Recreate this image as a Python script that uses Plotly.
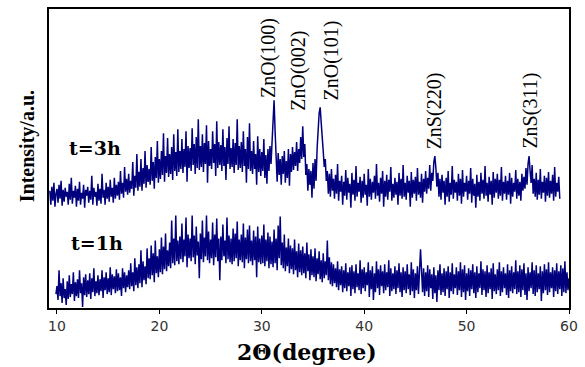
import numpy as np
import plotly.graph_objects as go

# 2-theta scan grid (degrees): start and step of each scan
start_3h, start_1h, step = 9.3, 9.9, 0.1

# t=3h intensities (a.u., offset as plotted), one value per 0.1 deg from 9.3 deg
int_3h = [
    118, 104, 122, 108, 126, 102, 115,
    120, 106, 124, 110, 128, 103, 119, 107, 121, 112,
    117, 104, 125, 109, 131, 105, 118, 111, 123, 102,
    120, 108, 127, 104, 116, 110, 124, 101, 119, 113,
    122, 106, 118, 109, 133, 104, 121, 112, 117, 103,
    125, 108, 120, 105, 135, 111, 119, 104, 126, 110,
    122, 107, 129, 112, 121, 106, 131, 110, 124, 113,
    127, 109, 138, 115, 126, 111, 142, 117, 130, 114,
    135, 116, 128, 120, 147, 113, 133, 121, 155, 118,
    137, 122, 150, 118, 141, 125, 158, 121, 144, 127,
    140, 124, 162, 128, 147, 120, 152, 131, 168, 126,
    150, 130, 158, 134, 176, 127, 153, 136, 171, 132,
    155, 135, 162, 129, 175, 138, 157, 133, 180, 137,
    158, 140, 170, 136, 160, 142, 178, 127, 163, 141,
    161, 138, 181, 144, 165, 135, 172, 141, 190, 139,
    163, 142, 175, 137, 166, 145, 184, 126, 168, 143,
    160, 140, 178, 146, 165, 133, 188, 141, 167, 144,
    164, 138, 180, 143, 162, 129, 171, 145, 183, 140,
    161, 142, 170, 136, 166, 144, 190, 139, 163, 141,
    167, 137, 178, 143, 160, 126, 172, 140, 186, 138,
    158, 135, 168, 140, 155, 124, 173, 137, 160, 133,
    157, 138, 170, 131, 154, 125, 160, 138, 163, 145,
    168, 176, 209, 178, 152, 127, 156, 134, 150, 124,
    153, 135, 158, 126, 148, 131, 160, 123, 155, 137,
    162, 139, 157, 143, 167, 138, 160, 146, 172, 150,
    183, 152, 165, 134, 145, 118, 140, 124, 138, 111,
    146, 120, 150, 128, 160, 188, 196, 202, 180, 172,
    158, 142, 150, 128, 138, 115, 135, 112, 140, 118,
    130, 110, 134, 115, 145, 108, 128, 117, 133, 104,
    127, 113, 139, 109, 131, 116, 125, 101, 136, 114,
    129, 108, 143, 112, 126, 117, 132, 106, 128, 111,
    135, 114, 124, 103, 140, 112, 130, 109, 127, 116,
    133, 110, 145, 113, 126, 107, 131, 115, 138, 102,
    128, 112, 134, 109, 129, 117, 142, 108, 125, 111,
    131, 114, 127, 104, 136, 113, 130, 110, 144, 112,
    126, 109, 133, 116, 128, 102, 137, 111, 129, 115,
    132, 108, 141, 114, 127, 111, 135, 106, 130, 117,
    138, 115, 131, 120, 144, 118, 136, 128, 147, 153,
    141, 122, 136, 112, 130, 109, 134, 116, 128, 104,
    131, 112, 138, 107, 126, 114, 143, 110, 129, 116,
    127, 108, 135, 113, 130, 105, 139, 112, 126, 117,
    133, 109, 128, 115, 141, 106, 130, 113, 125, 101,
    134, 112, 127, 108, 136, 115, 129, 110, 143, 113,
    126, 107, 132, 114, 128, 104, 137, 111, 130, 116,
    135, 110, 129, 113, 142, 108, 127, 115, 133, 109,
    128, 114, 136, 105, 131, 112, 126, 117, 139, 110,
    130, 113, 127, 108, 135, 118, 132, 120, 141, 124,
    145, 153, 138, 126, 144, 115, 130, 112, 136, 109,
    129, 114, 140, 110, 127, 116, 133, 107, 131, 113,
    137, 111, 128, 115, 134, 108, 142, 112, 126, 117,
    132, 110,
]

# t=1h intensities (a.u.), one value per 0.1 deg from 9.9 deg
int_1h = [
    14,
    22, 8, 38, 12, 25, 5, 30, 10, 19, 3,
    27, 9, 33, 11, 24, 14, 36, 7, 26, 12,
    29, 10, 38, 15, 25, 1, 31, 13, 34, 11,
    28, 14, 35, 9, 30, 16, 40, 12, 27, 15,
    33, 13, 29, 17, 38, 10, 31, 18, 36, 14,
    30, 16, 41, 13, 34, 19, 32, 15, 39, 17,
    35, 18, 31, 12, 40, 20, 36, 16, 33, 21,
    38, 19, 45, 22, 36, 17, 50, 23, 41, 20,
    44, 25, 58, 21, 47, 28, 42, 24, 60, 30,
    50, 29, 63, 33, 55, 26, 68, 35, 52, 31,
    59, 36, 71, 34, 62, 39, 75, 37, 58, 42,
    66, 40, 88, 45, 70, 43, 93, 47, 68, 44,
    72, 49, 85, 46, 69, 52, 91, 41, 74, 50,
    70, 47, 93, 51, 73, 44, 82, 53, 67, 30,
    75, 49, 88, 46, 71, 52, 93, 48, 77, 45,
    69, 50, 86, 43, 74, 51, 90, 47, 70, 28,
    72, 48, 84, 52, 68, 45, 91, 49, 73, 46,
    70, 44, 80, 47, 75, 50, 87, 42, 69, 48,
    74, 46, 85, 40, 71, 49, 79, 45, 83, 47,
    68, 43, 78, 48, 72, 31, 82, 46, 70, 44,
    73, 45, 84, 42, 69, 47, 76, 40, 72, 44,
    67, 41, 79, 45, 70, 38, 83, 50, 92, 43,
    66, 40, 74, 37, 61, 42, 70, 35, 63, 39,
    60, 34, 69, 38, 57, 31, 65, 36, 58, 33,
    62, 35, 55, 30, 66, 37, 54, 28, 59, 33,
    52, 31, 60, 27, 50, 34, 57, 29, 48, 26,
    55, 30, 47, 33, 68, 28, 51, 24, 46, 22,
    44, 25, 40, 21, 47, 18, 39, 23, 42, 16,
    38, 20, 45, 17, 36, 22, 41, 12, 43, 19,
    37, 15, 44, 21, 35, 18, 48, 14, 39, 20,
    41, 17, 36, 23, 46, 11, 38, 19, 42, 8,
    35, 16, 47, 20, 39, 13, 43, 22, 37, 15,
    44, 18, 36, 21, 48, 12, 40, 17, 35, 19,
    42, 14, 38, 20, 45, 16, 36, 11, 41, 18,
    37, 15, 44, 19, 34, 13, 46, 17, 39, 10,
    35, 18, 42, 14, 47, 59, 38, 16, 40, 12,
    36, 17, 43, 11, 39, 20, 34, 9, 41, 15,
    33, 6, 38, 18, 44, 13, 35, 16, 40, 12,
    37, 19, 42, 10, 36, 17, 45, 14, 34, 20,
    41, 13, 37, 18, 46, 11, 39, 16, 43, 8,
    35, 17, 40, 12, 38, 19, 44, 15, 36, 10,
    42, 16, 35, 20, 47, 13, 39, 18, 37, 11,
    43, 15, 36, 19, 40, 9, 45, 17, 34, 14,
    39, 18, 46, 12, 37, 16, 41, 20, 35, 13,
    44, 10, 38, 17, 42, 15, 36, 19, 48, 14,
    37, 16, 43, 11, 39, 18, 45, 13, 35, 8,
    41, 17, 36, 20, 46, 14, 38, 12, 43, 16,
    35, 19, 42, 7, 37, 15, 44, 18, 39, 13,
    46, 16, 36, 20, 41, 11, 38, 17, 45, 14,
    37, 19, 43, 12, 40, 16, 47, 15, 36, 18,
    30,
]

x_ticks = [10, 20, 30, 40, 50, 60]
series_labels = ["t=3h", "t=1h"]
peak_labels = ["ZnO(100)", "ZnO(002)", "ZnO(101)", "ZnS(220)", "ZnS(311)"]

tt_3h = np.round(start_3h + step * np.arange(len(int_3h)), 2)
tt_1h = np.round(start_1h + step * np.arange(len(int_1h)), 2)

navy = "#00007f"
fig = go.Figure()
fig.add_trace(go.Scatter(x=tt_3h, y=int_3h, mode="lines", line=dict(color=navy, width=1.5), name="t=3h"))
fig.add_trace(go.Scatter(x=tt_1h, y=int_1h, mode="lines", line=dict(color=navy, width=1.5), name="t=1h"))

serif = "Liberation Serif"
wide = "DejaVu Serif"

# peak labels (rotated)
peak_pos = [(30.64, 252), (33.64, 239), (36.84, 249), (46.82, 198), (56.22, 199)]
for lab, (px, py) in zip(peak_labels, peak_pos):
    fig.add_annotation(x=px, y=py, xref="x", yref="y", text=lab, showarrow=False,
                       textangle=-90, xanchor="center", yanchor="middle",
                       font=dict(family=serif, size=20, color="black"))

for lab, (px, py) in zip(series_labels, [(13.68, 161), (13.88, 65)]):
    fig.add_annotation(x=px, y=py, xref="x", yref="y", text="<b>%s</b>" % lab, showarrow=False,
                       xanchor="center", yanchor="middle",
                       font=dict(family=wide, size=19, color="black"))

# axis titles
fig.add_annotation(x=-0.042, y=163, xref="paper", yref="y", text="<b>Intensity/a.u.</b>",
                   showarrow=False, textangle=-90, xanchor="center", yanchor="middle",
                   font=dict(family=serif, size=20, color="black"))
fig.add_annotation(x=34.42, y=-0.148, xref="x", yref="paper", text="<b>2Θ(degree)</b>",
                   showarrow=False, xanchor="center", yanchor="middle",
                   font=dict(family=wide, size=22, color="black"))

fig.update_layout(
    width=585, height=367,
    margin=dict(l=49, r=12, t=7, b=59),
    paper_bgcolor="white", plot_bgcolor="white",
    showlegend=False,
    xaxis=dict(range=[9.22, 60], tickvals=x_ticks, ticktext=[str(v) for v in x_ticks],
               showgrid=False, zeroline=False, showline=True, linecolor="black", linewidth=1.5,
               mirror=True, ticks="outside", ticklen=4, tickcolor="black",
               tickfont=dict(family="DejaVu Sans", size=14, color="#333333")),
    yaxis=dict(range=[0, 301], showticklabels=False, ticks="", showgrid=False, zeroline=False,
               showline=True, linecolor="black", linewidth=1.5, mirror=True),
)

fig.write_html("out.html")
